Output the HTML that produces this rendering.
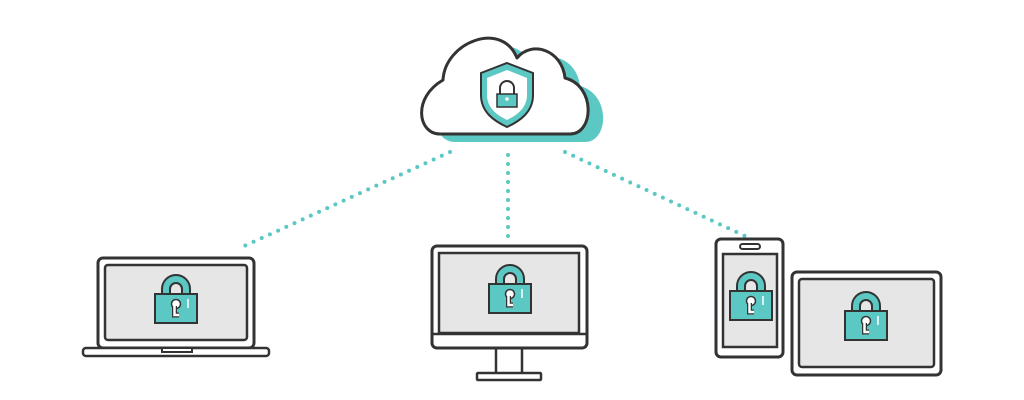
<!DOCTYPE html>
<html><head><style>html,body{margin:0;padding:0;background:#fff}svg{display:block}</style></head>
<body>
<svg width="1024" height="400" viewBox="0 0 1024 400" xmlns="http://www.w3.org/2000/svg">
<defs>
<g id="lock">
  <path d="M-14,0 V-5 A14,14 0 0 1 14,-5 V0" fill="#5bc8c4" stroke="#333" stroke-width="2"/>
  <path d="M-6,0 V-5 A6,6 0 0 1 6,-5 V0" fill="#e6e6e6" stroke="#333" stroke-width="2"/>
  <rect x="-21" y="0" width="42" height="29" fill="#5bc8c4" stroke="#333" stroke-width="2"/>
  <circle cx="0" cy="10" r="4.5" fill="#fff" stroke="#333" stroke-width="1.5"/>
  <path d="M-1.5,12 V21 H3" fill="none" stroke="#333" stroke-width="5"/>
  <path d="M-1.5,12 V21 H3" fill="none" stroke="#fff" stroke-width="2.5"/>
  <line x1="12" y1="5" x2="12" y2="14" stroke="#fff" stroke-width="1.5"/>
</g>
<path id="cloud" d="M440,134 C418,134 412,98 443,80 C445,42 502,20 517,58 C532,40 562,50 565,78 C596,86 594,134 570,134 Z"/>
</defs>
<g stroke="#5bc8c4" stroke-width="4" stroke-linecap="round" stroke-dasharray="0 9" fill="none">
  <line x1="450" y1="152" x2="240" y2="248"/>
  <line x1="508" y1="155" x2="508" y2="240"/>
  <line x1="565" y1="152" x2="745" y2="236"/>
</g>
<use href="#cloud" x="15" y="8" fill="#5bc8c4"/>
<use href="#cloud" fill="#fff" stroke="#333" stroke-width="3" stroke-linejoin="round"/>
<!-- shield -->
<path d="M507,63 L533,73 V95 C533,112 520,121 507,127 C494,121 481,112 481,95 V73 Z" fill="#5bc8c4" stroke="#333" stroke-width="2"/>
<path d="M507,70 L527,78 V95 C527,108 517,115 507,120 C497,115 487,108 487,95 V78 Z" fill="#fff"/>
<path d="M500,94 V88 A7,7 0 0 1 514,88 V94" fill="none" stroke="#333" stroke-width="2"/>
<rect x="497" y="94" width="20" height="13" fill="#5bc8c4" stroke="#333" stroke-width="1.5"/>
<circle cx="507" cy="99" r="1.8" fill="#fff"/>
<!-- laptop -->
<rect x="98" y="258" width="156" height="90" rx="5" fill="#fff" stroke="#333" stroke-width="3"/>
<rect x="105" y="265" width="142" height="75" rx="3" fill="#e6e6e6" stroke="#333" stroke-width="2.5"/>
<rect x="83" y="348" width="186" height="8" rx="3" fill="#fff" stroke="#333" stroke-width="2.5"/>
<rect x="162" y="348" width="30" height="4" fill="#fff" stroke="#333" stroke-width="2"/>
<use href="#lock" x="176" y="294"/>
<!-- monitor -->
<rect x="496" y="348" width="26" height="26" fill="#fff" stroke="#333" stroke-width="2.5"/>
<rect x="477" y="373" width="64" height="7" rx="1" fill="#fff" stroke="#333" stroke-width="2.5"/>
<rect x="432" y="246" width="155" height="102" rx="5" fill="#fff" stroke="#333" stroke-width="3"/>
<rect x="439" y="253" width="140" height="80" fill="#e6e6e6" stroke="#333" stroke-width="2.5"/>
<line x1="432" y1="334" x2="587" y2="334" stroke="#333" stroke-width="2.5"/>
<use href="#lock" x="510" y="284"/>
<!-- phone -->
<rect x="716" y="239" width="67" height="118" rx="5" fill="#fff" stroke="#333" stroke-width="3"/>
<rect x="740" y="244" width="20" height="5" rx="2.5" fill="#fff" stroke="#333" stroke-width="2"/>
<rect x="723" y="254" width="54" height="93" fill="#e6e6e6" stroke="#333" stroke-width="2.5"/>
<use href="#lock" x="751" y="291"/>
<!-- tablet -->
<rect x="792" y="272" width="149" height="103" rx="5" fill="#fff" stroke="#333" stroke-width="3"/>
<rect x="799" y="279" width="135" height="88" rx="3" fill="#e6e6e6" stroke="#333" stroke-width="2.5"/>
<use href="#lock" x="866" y="311"/>
</svg>
</body></html>
